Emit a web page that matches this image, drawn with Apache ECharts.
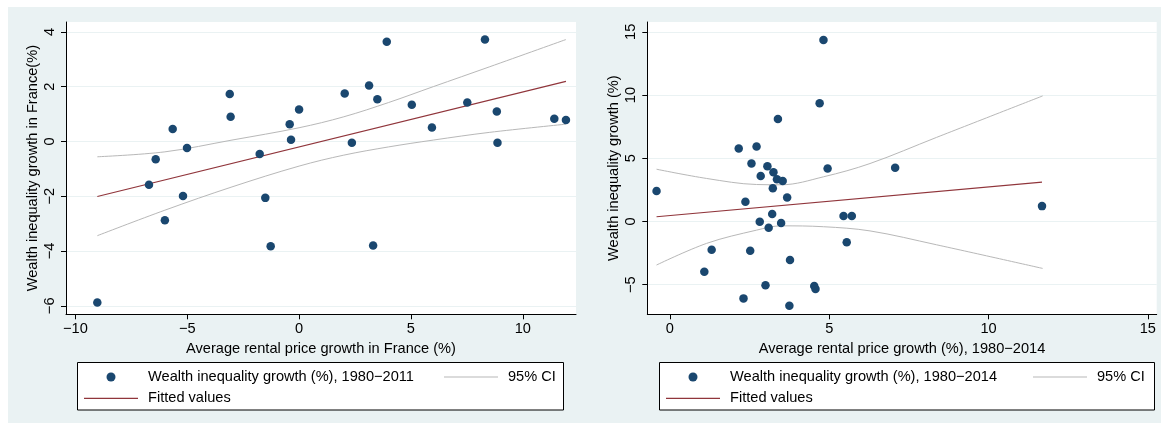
<!DOCTYPE html>
<html>
<head>
<meta charset="utf-8">
<script src="https://cdn.jsdelivr.net/npm/echarts@6/dist/echarts.min.js"></script>
<style>
  html, body { margin: 0; background: #fff; }
  #panel { position: absolute; left: 8px; top: 7px; width: 1153px; height: 416px; background: #eaf2f3; }
  #chart { position: absolute; left: 0; top: 0; width: 1161px; height: 423px; }
</style>
</head>
<body>
<div id="panel"></div>
<div id="chart"></div>
<script>
// left panel: France, 1980-2011
const leftX = [-9.02, -6.71, -6.41, -6.0, -5.65, -5.19, -5.01, -3.10, -3.06, -1.76, -1.51, -1.27, -0.42, -0.36, 0.0,
  2.04, 2.36, 3.13, 3.31, 3.50, 3.92, 5.04, 5.94, 7.52, 8.31, 8.84, 8.87, 11.41, 11.93]
const leftY = [-5.88, -1.58, -0.65, -2.88, 0.45, -1.99, -0.24, 1.73, 0.90, -0.46, -2.06, -3.83, 0.63, 0.06, 1.17,
  1.75, -0.05, 2.04, -3.80, 1.54, 3.64, 1.34, 0.51, 1.42, 3.72, 1.09, -0.05, 0.83, 0.78]
const leftFitX = [-9.02, 11.93]
const leftFitY = [-2.01, 2.19]
const leftCiX = [-9.02, -6, -3, 0, 2, 4, 6, 8.5, 11.93]
const leftCiUpper = [-0.56, -0.38, 0.05, 0.5, 0.9, 1.42, 2.0, 2.72, 3.72]
const leftCiLower = [-3.44, -2.51, -1.66, -0.9, -0.5, -0.2, 0.05, 0.33, 0.63]
const leftXTicks = [-10, -5, 0, 5, 10]
const leftYTicks = [-6, -4, -2, 0, 2, 4]

// right panel: 1980-2014
const rightX = [-0.42, 1.08, 1.31, 2.16, 2.31, 2.37, 2.52, 2.56, 2.72, 2.82, 2.85, 3.0, 3.06, 3.10, 3.21, 3.23, 3.25,
  3.36, 3.39, 3.49, 3.54, 3.68, 3.75, 3.77, 4.53, 4.57, 4.70, 4.82, 4.95, 5.45, 5.55, 5.71, 7.07, 11.68]
const rightY = [2.40, -3.98, -2.24, 5.77, -6.09, 1.55, -2.32, 4.58, 5.93, -0.03, 3.60, -5.06, 4.37, -0.50, 0.58, 2.63, 3.90,
  3.34, 8.11, -0.13, 3.19, 1.90, -6.67, -3.06, -5.11, -5.35, 9.35, 14.36, 4.19, 0.42, -1.64, 0.42, 4.24, 1.21]
const rightFitX = [-0.42, 11.68]
const rightFitY = [0.37, 3.11]
const rightCiX = [-0.42, 1.15, 2.72, 3.5, 4.82, 6.28, 8.37, 11.70]
const rightCiUpper = [4.13, 3.40, 2.92, 2.9, 3.53, 4.58, 6.65, 9.93]
const rightCiLower = [-3.45, -1.74, -0.69, -0.35, -0.42, -0.75, -1.85, -3.72]
const rightXTicks = [0, 5, 10, 15]
const rightYTicks = [-5, 0, 5, 10, 15]

const FONT = 'Liberation Sans'
const FS = 14.6
const NAVY = '#1a476f'
const MAROON = '#90353b'
const GREY = '#b8b8b8'
const GRIDLINE = '#eaf2f3'
const LINE_ICON = 'path://M0,0H54V1.2H0Z'

const fmt = v => String(v).replace('-', '\u2212')
const pairs = (xs, ys) => xs.map((x, i) => [x, ys[i]])

function xAxisOf(gridIndex, min, max, ticks, name) {
  return {
    type: 'value', gridIndex, min, max, name,
    nameLocation: 'middle', nameGap: 22,
    nameTextStyle: { fontSize: FS, color: '#000', fontFamily: FONT },
    axisLine: { show: true, onZero: false, lineStyle: { color: '#000', width: 1 } },
    axisTick: { show: true, length: 5, customValues: ticks, lineStyle: { color: '#000' } },
    axisLabel: { customValues: ticks, fontSize: FS, color: '#000', fontFamily: FONT, margin: 7, formatter: fmt },
    splitLine: { show: false }
  }
}

function yAxisOf(gridIndex, min, max, ticks, name) {
  return {
    type: 'value', gridIndex, min, max, name,
    nameLocation: 'middle', nameGap: 26,
    nameTextStyle: { fontSize: FS, color: '#000', fontFamily: FONT },
    axisLine: { show: true, onZero: false, lineStyle: { color: '#000', width: 1 } },
    axisTick: { show: true, length: 5, customValues: ticks, lineStyle: { color: '#000' } },
    axisLabel: { customValues: ticks, rotate: 90, fontSize: FS, color: '#000', fontFamily: FONT, margin: 9, formatter: fmt },
    splitLine: { show: false }
  }
}

function panelSeries(idx, xs, ys, fitX, fitY, ciX, ciUp, ciLo, yTicks, dotName) {
  return [
    {
      name: '95% CI', type: 'line', xAxisIndex: idx, yAxisIndex: idx, z: 1,
      data: pairs(ciX, ciUp), smooth: 0.35, symbol: 'none',
      lineStyle: { color: GREY, width: 1 }, itemStyle: { color: GREY },
      markLine: {
        silent: true, symbol: ['none', 'none'], label: { show: false }, z: 0,
        lineStyle: { color: GRIDLINE, type: 'solid', width: 1 },
        emphasis: { disabled: true },
        data: yTicks.map(v => ({ yAxis: v }))
      }
    },
    {
      name: '95% CI', type: 'line', xAxisIndex: idx, yAxisIndex: idx, z: 1,
      data: pairs(ciX, ciLo), smooth: 0.35, symbol: 'none',
      lineStyle: { color: GREY, width: 1 }, itemStyle: { color: GREY }
    },
    {
      name: 'Fitted values', type: 'line', xAxisIndex: idx, yAxisIndex: idx, z: 2,
      data: pairs(fitX, fitY), symbol: 'none',
      lineStyle: { color: MAROON, width: 1.2 }, itemStyle: { color: MAROON }
    },
    {
      name: dotName, type: 'scatter', xAxisIndex: idx, yAxisIndex: idx, z: 3,
      data: pairs(xs, ys), symbol: 'circle', symbolSize: 8.5,
      itemStyle: { color: NAVY, opacity: 1 }
    }
  ]
}

function legendOf(left, top, items, orient) {
  return {
    left, top, orient, data: items, padding: 0, itemGap: 6.3,
    itemWidth: 54, itemHeight: 9, selectedMode: false,
    textStyle: { fontSize: FS, color: '#000', fontFamily: FONT, padding: [0, 0, 0, 5] }
  }
}

const leftDot = 'Wealth inequality growth (%), 1980\u22122011'
const rightDot = 'Wealth inequality growth (%), 1980\u22122014'
const fitItem = { name: 'Fitted values', icon: LINE_ICON }
const ciItem = { name: '95% CI', icon: LINE_ICON }

const chart = echarts.init(document.getElementById('chart'))

chart.setOption({
  backgroundColor: 'transparent',
  animation: false,
  textStyle: { fontFamily: FONT },
  graphic: [
    { type: 'rect', shape: { x: 77.5, y: 362.5, width: 486, height: 47.5 }, style: { fill: '#fff', stroke: '#000', lineWidth: 1 } },
    { type: 'rect', shape: { x: 659.5, y: 362.5, width: 495, height: 47.5 }, style: { fill: '#fff', stroke: '#000', lineWidth: 1 } }
  ],
  grid: [
    { left: 66, top: 22, width: 510, height: 292.3, show: true, backgroundColor: '#fff', borderWidth: 0, outerBoundsMode: 'none' },
    { left: 647.3, top: 22, width: 509.4, height: 292.3, show: true, backgroundColor: '#fff', borderWidth: 0, outerBoundsMode: 'none' }
  ],
  xAxis: [
    xAxisOf(0, -10.42, 12.38, leftXTicks, 'Average rental price growth in France (%)'),
    xAxisOf(1, -0.71, 15.28, rightXTicks, 'Average rental price growth (%), 1980\u22122014')
  ],
  yAxis: [
    yAxisOf(0, -6.31, 4.36, leftYTicks, 'Wealth inequality growth in France(%)'),
    yAxisOf(1, -7.35, 15.78, rightYTicks, 'Wealth inequality growth (%)')
  ],
  legend: [
    legendOf(84, 369.5, [leftDot, fitItem], 'vertical'),
    legendOf(444, 369.5, [ciItem], 'horizontal'),
    legendOf(666, 369.5, [rightDot, fitItem], 'vertical'),
    legendOf(1033, 369.5, [ciItem], 'horizontal')
  ],
  series: [
    ...panelSeries(0, leftX, leftY, leftFitX, leftFitY, leftCiX, leftCiUpper, leftCiLower, leftYTicks, leftDot),
    ...panelSeries(1, rightX, rightY, rightFitX, rightFitY, rightCiX, rightCiUpper, rightCiLower, rightYTicks, rightDot)
  ]
})
</script>
</body>
</html>
